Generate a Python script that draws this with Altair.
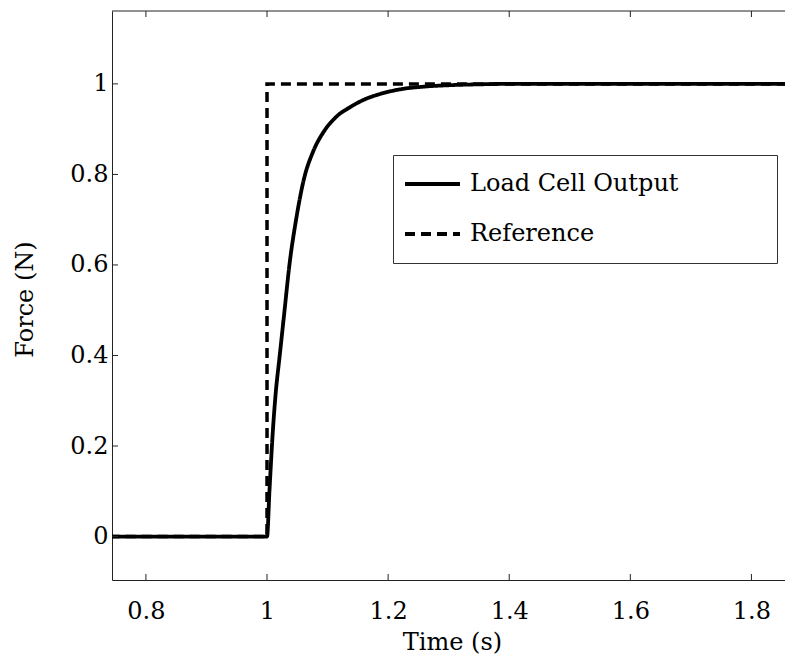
import altair as alt
import pandas as pd

# ---- data ----
series_names = ["Load Cell Output", "Reference"]

t_load = [0.74, 1.000, 1.004, 1.009, 1.0139, 1.021, 1.029, 1.037, 1.048, 1.061,
          1.076, 1.094, 1.115, 1.139, 1.160, 1.185, 1.220, 1.260, 1.300, 1.350,
          1.400, 1.88]
f_load = [0.0, 0.0, 0.10, 0.22, 0.31, 0.40, 0.50, 0.60, 0.70, 0.79,
          0.85, 0.895, 0.928, 0.95, 0.965, 0.977, 0.988, 0.994, 0.997, 0.999,
          1.0, 1.0]

t_ref = [0.74, 1.0, 1.0, 1.88]
f_ref = [0.0, 0.0, 1.0, 1.0]

x_ticks = [0.8, 1.0, 1.2, 1.4, 1.6, 1.8]
y_ticks = [0.0, 0.2, 0.4, 0.6, 0.8, 1.0]

x_domain = [0.744, 1.867]
y_domain = [-0.096, 1.161]

# ---- build tables ----
load_df = pd.DataFrame({"series": series_names[0], "t": t_load, "f": f_load,
                        "i": list(range(len(t_load)))})
ref_df = pd.DataFrame({"series": series_names[1], "t": t_ref, "f": f_ref,
                       "i": list(range(len(t_ref)))})
xt = pd.DataFrame({"t": x_ticks})
yt = pd.DataFrame({"f": y_ticks})
one = pd.DataFrame({"k": [0]})

W, H = 680, 569
FONT = "DejaVu Serif"
INK = "#222222"

x_scale = alt.Scale(domain=x_domain, nice=False, zero=False)
y_scale = alt.Scale(domain=y_domain, nice=False, zero=False)

x_axis = alt.Axis(values=x_ticks, format="~g", title="Time (s)",
                  ticks=False, tickSize=0, labelPadding=38,
                  labelBaseline="alphabetic", grid=False,
                  titleY=69, titleBaseline="alphabetic")
y_axis = alt.Axis(values=y_ticks, format="~g", title="Force (N)",
                  ticks=False, tickSize=0, labelPadding=4, grid=False,
                  titleX=-80, titleY=288, titleBaseline="alphabetic",
                  titleAngle=270)

X = lambda: alt.X("t:Q", scale=x_scale, axis=x_axis, title="Time (s)")
Y = lambda: alt.Y("f:Q", scale=y_scale, axis=y_axis, title="Force (N)")

dash = alt.StrokeDash(
    "series:N",
    scale=alt.Scale(domain=series_names, range=[[1, 0], [10, 6]]),
    legend=alt.Legend(
        orient="none", legendX=281, legendY=144,
        title=" ", titleOrient="right", titlePadding=89,
        titleFont=FONT, titleFontSize=24,
        symbolType="stroke", symbolSize=3025, symbolStrokeWidth=3.8,
        symbolStrokeColor="black",
        labelFont=FONT, labelFontSize=24, labelColor="black",
        labelOffset=8, labelLimit=400,
        padding=10, rowPadding=12, clipHeight=38,
        strokeColor="#333333", fillColor="white", cornerRadius=0,
    ),
)

load_line = alt.Chart(load_df).mark_line(
    clip=True, color="black", strokeWidth=3.8, interpolate="monotone"
).encode(x=X(), y=Y(), strokeDash=dash, order="i:Q")

ref_line = alt.Chart(ref_df).mark_line(
    clip=True, color="black", strokeWidth=3.5
).encode(x=X(), y=Y(), strokeDash=dash, order="i:Q")

bottom_ticks = alt.Chart(xt).mark_rule(color=INK, strokeWidth=1).encode(
    x=X(), y=alt.value(H), y2=alt.value(H - 6))
top_ticks = alt.Chart(xt).mark_rule(color=INK, strokeWidth=1).encode(
    x=X(), y=alt.value(0), y2=alt.value(6))
left_ticks = alt.Chart(yt).mark_rule(color=INK, strokeWidth=1).encode(
    y=Y(), x=alt.value(0), x2=alt.value(6))
top_border = alt.Chart(one).mark_rule(color=INK, strokeWidth=1).encode(
    x=alt.value(0), x2=alt.value(W), y=alt.value(0))

chart = alt.layer(load_line, ref_line, bottom_ticks, top_ticks, left_ticks,
                  top_border).properties(
    width=W, height=H,
    autosize=alt.AutoSizeParams(type="none"),
    padding={"left": 104, "top": 3, "right": -7, "bottom": 76},
    background="white",
).configure_view(stroke=None).configure_axis(
    labelFont=FONT, labelFontSize=24, labelColor="black",
    titleFont=FONT, titleFontSize=24, titleColor="black", titleFontWeight="normal",
    domainColor=INK, domainWidth=1,
)

chart.save("out.html", embed_options={"renderer": "svg", "actions": False})
